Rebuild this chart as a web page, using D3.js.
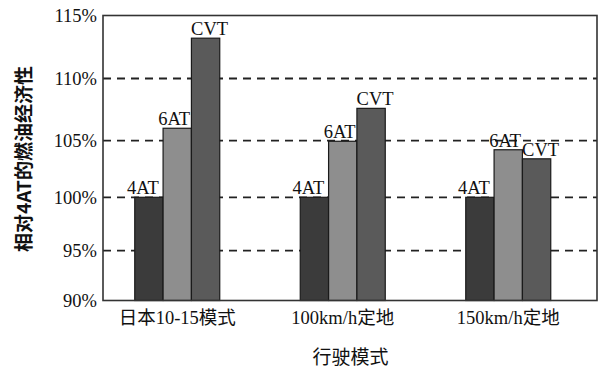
<!DOCTYPE html>
<html>
<head>
<meta charset="utf-8">
<script src="https://cdn.jsdelivr.net/npm/d3@7/dist/d3.min.js"></script>
<style>
  html, body { margin: 0; padding: 0; background: #fff; }
  svg { display: block; }
</style>
</head>
<body>
<svg id="chart" width="613" height="373"></svg>
<script>
// ---- data ----
const categories = ["日本10-15模式", "100km/h定地", "150km/h定地"];
const seriesNames = ["4AT", "6AT", "CVT"];
const values4AT = [100, 100, 100];
const values6AT = [106.0, 104.95, 104.2];
const valuesCVT = [113.2, 107.6, 103.4];
const yTicks = [90, 95, 100, 105, 110, 115];
const yTitle = "相对4AT的燃油经济性";
const xTitle = "行驶模式";

const seriesValues = [values4AT, values6AT, valuesCVT];
const table = categories.map((c, i) => ({
  cat: c,
  bars: seriesNames.map((s, j) => ({ s, v: seriesValues[j][i] }))
}));

// ---- styles ----
const colors = { "4AT": "#3b3b3b", "6AT": "#8e8e8e", "CVT": "#5a5a5a" };
const labelDx = { "4AT": -6, "6AT": -3, "CVT": 4 };
const serif = "'Liberation Serif', 'Times New Roman', Times, 'DejaVu Serif', serif";
const mixed = "'Liberation Serif', 'Times New Roman', 'Noto Sans CJK SC', serif";

const svg = d3.select("#chart");
const plotL = 103, plotR = 597, plotT = 15.5, plotB = 300.5;

// scanned picture's axis is slightly non-uniform; piecewise scale follows it
const y = d3.scaleLinear()
  .domain(yTicks)
  .range([300.5, 250.7, 197.3, 140.7, 78.5, 15.5]);

const x0 = d3.scaleBand().domain(categories).range([94.5, 591]).padding(0);
const groupW = 85;
const x1 = d3.scaleBand().domain(seriesNames)
  .range([(x0.bandwidth() - groupW) / 2, (x0.bandwidth() + groupW) / 2]).padding(0);

// gridlines
svg.append("g")
  .selectAll("line")
  .data(yTicks.filter(t => t > 90 && t < 115))
  .join("line")
  .attr("x1", plotL).attr("x2", plotR)
  .attr("y1", d => y(d)).attr("y2", d => y(d))
  .attr("stroke", "#222").attr("stroke-width", 1.8)
  .attr("stroke-dasharray", "8,6");

// bars
const groups = svg.append("g").selectAll("g")
  .data(table).join("g")
  .attr("transform", d => `translate(${x0(d.cat)},0)`);

groups.selectAll("rect")
  .data(d => d.bars).join("rect")
  .attr("x", d => x1(d.s))
  .attr("width", x1.bandwidth())
  .attr("y", d => y(d.v))
  .attr("height", d => y(90) - y(d.v))
  .attr("fill", d => colors[d.s])
  .attr("stroke", "#1a1a1a").attr("stroke-width", 1.2);

groups.selectAll("text")
  .data(d => d.bars).join("text")
  .attr("x", d => x1(d.s) + x1.bandwidth() / 2 + labelDx[d.s])
  .attr("y", d => y(d.v) - 3)
  .attr("text-anchor", "middle")
  .style("font-family", serif)
  .style("font-size", "18.5px")
  .attr("fill", "#111")
  .text(d => d.s);

// frame
svg.append("rect")
  .attr("x", plotL).attr("y", plotT)
  .attr("width", plotR - plotL).attr("height", plotB - plotT)
  .attr("fill", "none").attr("stroke", "#333").attr("stroke-width", 1.6);

// y axis
const yAxis = d3.axisLeft(y).tickValues(yTicks).tickSize(0).tickPadding(6)
  .tickFormat(d => d + "%");
const yg = svg.append("g").attr("transform", `translate(${plotL},0)`).call(yAxis);
yg.attr("font-family", null).attr("font-size", null);
yg.select(".domain").remove();
yg.selectAll("text")
  .style("font-family", serif)
  .style("font-size", "18.5px")
  .attr("fill", "#111");

// x axis
const xAxis = d3.axisBottom(x0).tickSize(0).tickPadding(10);
const xg = svg.append("g").attr("transform", `translate(0,${plotB})`).call(xAxis);
xg.attr("font-family", null).attr("font-size", null);
xg.select(".domain").remove();
xg.selectAll("text")
  .style("font-family", mixed)
  .style("font-size", "18.5px")
  .attr("fill", "#111");

// titles
svg.append("text")
  .attr("transform", "translate(31,159) rotate(-90)")
  .attr("text-anchor", "middle")
  .style("font-family", "'Noto Sans CJK SC', sans-serif")
  .style("font-weight", 700)
  .style("font-size", "19px")
  .attr("fill", "#111")
  .text(yTitle);

svg.append("text")
  .attr("x", 350.5).attr("y", 364)
  .attr("text-anchor", "middle")
  .style("font-family", "'Noto Sans CJK SC', sans-serif")
  .style("font-size", "19px")
  .attr("fill", "#111")
  .text(xTitle);
</script>
</body>
</html>
